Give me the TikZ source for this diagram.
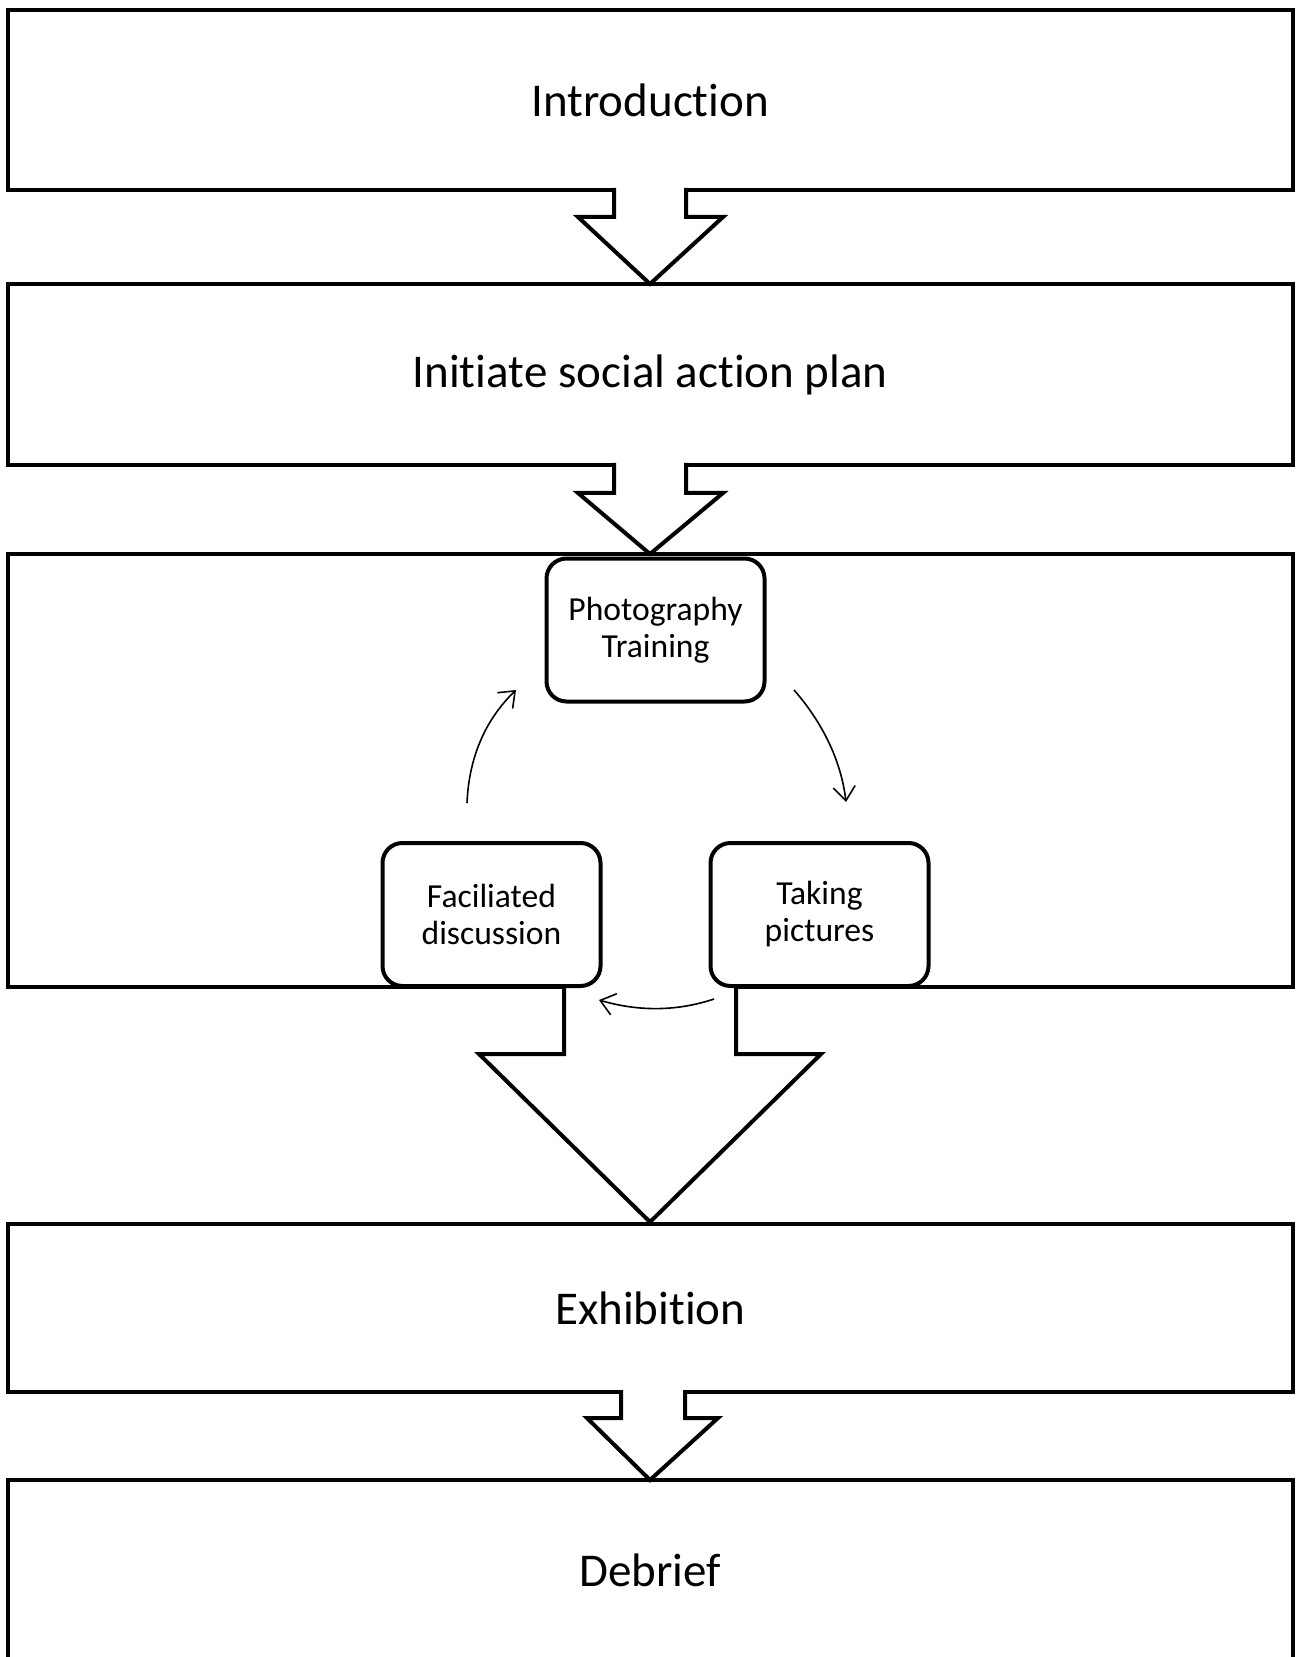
\documentclass[tikz,border=0pt]{standalone}
\usepackage{fontspec}
\setmainfont{Carlito}[Ligatures={NoCommon,NoContextual,NoRare},Contextuals={NoAlternate}]
\usetikzlibrary{arrows.meta}
\tikzset{
  stage/.style={draw=black, line width=2pt, fill=white, rectangle, outer sep=0pt, inner sep=0pt,
    font=\fontsize{23.5}{28}\selectfont},
  flowarrow/.style={draw=black, line width=2pt, fill=white, line join=miter},
  cyclebox/.style={draw=black, line width=2pt, fill=white, rounded corners=10pt, outer sep=0pt,
    inner sep=0pt, align=center, minimum width=109pt, minimum height=71.5pt,
    font=\fontsize{16.8}{18.5}\selectfont},
  cyclearrow/.style={draw=black, line width=0.8pt, -{Straight Barb[length=7pt,width=11pt]}}
}
\begin{document}
\begin{tikzpicture}[x=0.5pt, y=-0.5pt]
\useasboundingbox (0,0) rectangle (1301,1657);
% stage boxes
\node[stage, minimum width=642.75pt, minimum height=90pt] (intro) at (650.25,100) {Introduct\kern0pt ion};
\node[stage, minimum width=642.75pt, minimum height=90.5pt] (plan) at (650.25,374.5) {Init\kern0pt iat\kern0pt e social act\kern0pt ion plan};
\node[stage, minimum width=642.75pt, minimum height=216.5pt] (cycle) at (650.25,770.5) {};
\node[stage, minimum width=642.75pt, minimum height=84pt] (exhib) at (650.25,1308) {Exhibit\kern0pt ion};
\node[stage, minimum width=642.75pt, minimum height=90pt] (debrief) at (650.25,1570) {Debrief};
% block arrows
\draw[flowarrow] (614,188) -- (614,217) -- (578,217) -- (650,284) -- (723,217) -- (686,217) -- (686,188);
\draw[flowarrow] (614,463) -- (614,493) -- (578,493) -- (650,554) -- (723,493) -- (686,493) -- (686,463);
\draw[flowarrow] (564,985) -- (564,1054) -- (479,1054) -- (650,1222) -- (821,1054) -- (736,1054) -- (736,985);
\draw[flowarrow] (621,1390) -- (621,1418) -- (587,1418) -- (650,1480) -- (718,1418) -- (685,1418) -- (685,1390);
% cycle boxes
\node[cyclebox] (photo) at (655.5,630) {Photography\\Training};
\node[cyclebox] (disc) at (491.5,914.5) {Faciliated\\discussion};
\node[cyclebox] (pics) at (819.5,914.5) {Taking\\pictures};
% cycle arrows
\coordinate (a1s) at (467,803);
\coordinate (a1e) at (516,690);
\coordinate (a2s) at (794,690);
\coordinate (a2e) at (846,802);
\coordinate (a3s) at (714,999);
\coordinate (a3e) at (599,1000);
\draw[cyclearrow] (a1s) .. controls (469,755) and (487,718) .. (a1e);
\draw[cyclearrow] (a2s) .. controls (822,722) and (841,760) .. (a2e);
\draw[cyclearrow] (a3s) .. controls (678,1011) and (640,1012) .. (a3e);
\end{tikzpicture}
\end{document}
